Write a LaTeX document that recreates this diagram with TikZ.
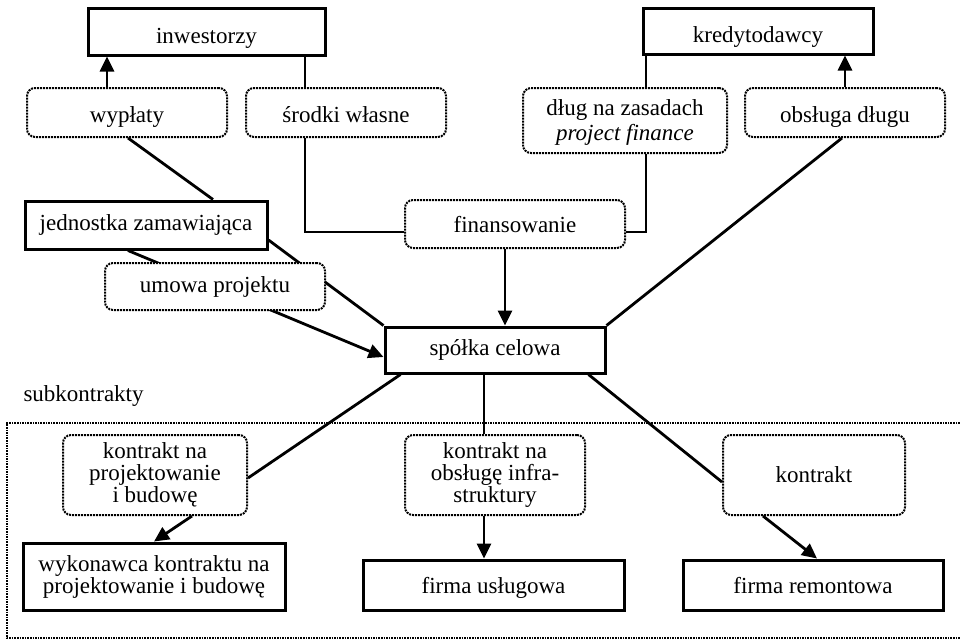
\documentclass[tikz,border=0pt]{standalone}
\usepackage{fontspec}
\setmainfont{Liberation Serif}
\usetikzlibrary{arrows.meta}
\begin{document}
\begin{tikzpicture}[x=1pt,y=-1pt,
  solidbox/.style={draw, line width=3pt, fill=white, inner sep=0pt, align=center},
  dotbox/.style={draw, densely dotted, line width=2pt, rounded corners=8pt, fill=white, inner sep=0pt, align=center},
  tb/.style={text height=#1, text depth=5pt},
  conn/.style={line width=2.8pt},
  arr/.style={line width=2.8pt, -{Triangle[length=15pt,width=14pt]}},
  every node/.style={font=\fontsize{23}{22}\selectfont}]
\useasboundingbox (0,0) rectangle (960,641);

% frame of subcontracts
\draw[densely dotted, line width=1.6pt] (965,423) -- (7,423) -- (7,638) -- (965,638);
\node[anchor=west] (sub) at (20,396) {subkontrakty};

% nodes
\node[solidbox, tb=29pt, minimum width=237pt, minimum height=47pt] (inw) at (206.5,31.5) {inwestorzy};
\node[solidbox, tb=27pt, minimum width=230pt, minimum height=46pt] (kred) at (758,31) {kredytodawcy};
\node[dotbox, tb=25pt, minimum width=200pt, minimum height=49pt] (wyp) at (127,112.5) {wypłaty};
\node[dotbox, tb=25pt, minimum width=200pt, minimum height=49pt] (sro) at (346,112.5) {środki własne};
\node[dotbox, minimum width=204pt, minimum height=65pt] (dlug) at (625,120.5) {\rule{0pt}{20pt}dług na zasadach\\[3pt]\textit{project finance}};
\node[dotbox, tb=25pt, minimum width=200pt, minimum height=49pt] (obs) at (845,112.5) {obsługa długu};
\node[solidbox, minimum width=242pt, minimum height=48pt] (jed) at (146,225) {jednostka zamawiająca};
\node[dotbox, tb=21pt, minimum width=220pt, minimum height=48pt] (fin) at (515,224) {finansowanie};
\node[solidbox, minimum width=220pt, minimum height=46pt] (spo) at (495,350) {spółka celowa};
\node[dotbox, minimum width=184pt, minimum height=80pt] (k1) at (155,475) {kontrakt na\\projektowanie\\i budowę};
\node[dotbox, minimum width=180pt, minimum height=80pt] (k2) at (495,475) {kontrakt na\\obsługę infra-\\struktury};
\node[dotbox, minimum width=182pt, minimum height=80pt] (k3) at (814,475) {kontrakt};
\node[solidbox, minimum width=262pt, minimum height=67pt] (wyk) at (154,576.5) {wykonawca kontraktu na\\projektowanie i budowę};
\node[solidbox, tb=21pt, minimum width=261pt, minimum height=50pt] (fu) at (493.5,585) {firma usługowa};
\node[solidbox, tb=21pt, minimum width=260pt, minimum height=50pt] (fr) at (813,585) {firma remontowa};

% top connectors
\draw[arr] ([xshift=-20pt]wyp.north) -- ([xshift=-20pt]wyp.north |- inw.south);
\draw[conn] ([xshift=-41pt]sro.north) -- ([xshift=-41pt]sro.north |- inw.south);
\draw[conn] ([xshift=-41pt]sro.south) |- ([yshift=-8pt]fin.west);
\draw[conn] ([xshift=21pt]dlug.north) -- ([xshift=21pt]dlug.north |- kred.south);
\draw[conn] ([xshift=21pt]dlug.south) |- ([yshift=-8pt]fin.east);
\draw[arr] (obs.north) -- (obs.north |- kred.south);
\draw[conn] ([xshift=-3pt]obs.south) -- (spo.north east);
\draw[conn] ([xshift=1pt]wyp.south) -- ([xshift=67pt]jed.north);
\draw[arr] ([xshift=-10pt]fin.south) -- ([xshift=-10pt]fin.south |- spo.north);

% jednostka -> spolka (behind umowa)
\draw[arr] ([xshift=-18pt]jed.south) -- ([yshift=-7pt]spo.west);
\draw[conn] ([yshift=-15pt]jed.east) -- (spo.north west);
\node[dotbox, minimum width=220pt, minimum height=47pt] (umo) at (215,286.5) {umowa projektu};

% bottom connectors
\draw[conn] ([xshift=17pt]spo.south west) -- ([yshift=-3pt]k1.east);
\draw[arr] ([xshift=37pt]k1.south) -- (wyk.north);
\draw[conn] ([xshift=-11pt]spo.south) -- ([xshift=-11pt]spo.south |- k2.north);
\draw[arr] ([xshift=-11pt]k2.south) -- ([xshift=-11pt]k2.south |- fu.north);
\draw[conn] ([xshift=-18pt]spo.south east) -- ([yshift=-7pt]k3.west);
\draw[arr] ([xshift=-51pt]k3.south) -- ([xshift=4pt]fr.north);
\end{tikzpicture}
\end{document}
